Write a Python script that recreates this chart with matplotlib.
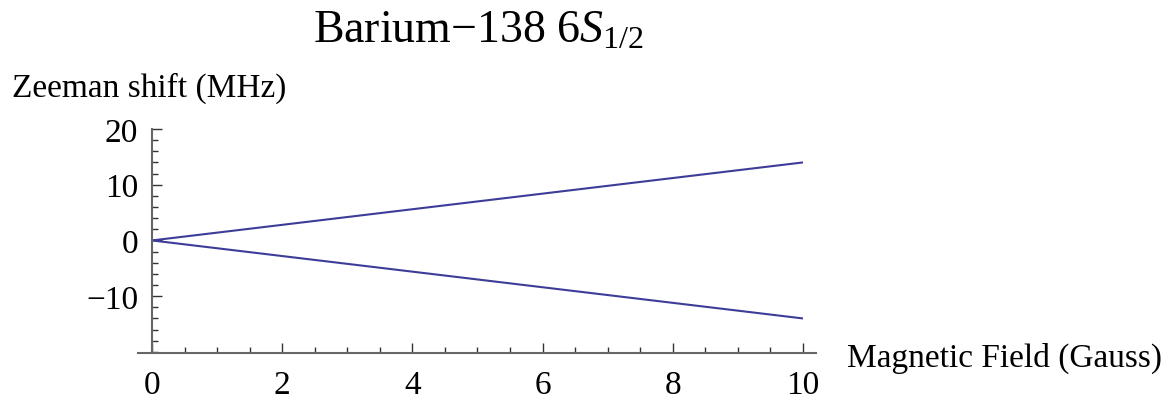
import numpy as np
import matplotlib
matplotlib.use("Agg")
import matplotlib.pyplot as plt
from matplotlib.ticker import MultipleLocator

plt.rcParams["font.family"] = ["Liberation Serif", "DejaVu Serif"]
plt.rcParams["mathtext.fontset"] = "custom"
plt.rcParams["mathtext.rm"] = "Liberation Serif"
plt.rcParams["mathtext.it"] = "Liberation Serif:italic"

# Zeeman shift of the two m_J sublevels of the 6S_1/2 ground state
field_gauss = [0.0, 10.0]
shift_up_mhz = [0.0, 14.0]
shift_down_mhz = [0.0, -14.0]

x_major = [0, 2, 4, 6, 8, 10]
y_major = [-10, 0, 10, 20]

line_color = "#3d3d99"
axis_color = "#666666"

fig = plt.figure(figsize=(11.70, 4.02), dpi=100)
ax = fig.add_axes([138 / 1170, 48 / 402, 678 / 1170, 224 / 402])

ax.plot(field_gauss, shift_up_mhz, color=line_color, lw=1.5, solid_capstyle="butt")
ax.plot(field_gauss, shift_down_mhz, color=line_color, lw=1.5, solid_capstyle="butt")

ax.set_xlim(-0.215, 10.2)
ax.set_ylim(-20.2, 20)

for side in ("top", "right"):
    ax.spines[side].set_visible(False)
ax.spines["left"].set_position(("data", 0))
for side in ("left", "bottom"):
    ax.spines[side].set_color(axis_color)
    ax.spines[side].set_linewidth(1.5)

ax.xaxis.set_major_locator(MultipleLocator(2))
ax.xaxis.set_minor_locator(MultipleLocator(0.5))
ax.yaxis.set_major_locator(MultipleLocator(10))
ax.yaxis.set_minor_locator(MultipleLocator(2))
ax.set_xticks(x_major)
ax.set_yticks(y_major)
ax.set_yticklabels(["\u221210", "0", "10", "20"])

ax.tick_params(which="both", direction="in", color="#333333", width=1,
               labelsize=24, labelcolor="black")
ax.tick_params(which="major", length=7)
ax.tick_params(which="minor", length=4)
ax.tick_params(axis="x", which="major", pad=12)
ax.tick_params(axis="y", which="major", pad=10)

fig.text(12 / 1170, 1 - 97 / 402, "Zeeman shift (MHz)", fontsize=24,
         ha="left", va="baseline")
fig.text(847 / 1170, 1 - 367 / 402, "Magnetic Field (Gauss)", fontsize=24,
         ha="left", va="baseline")
fig.text(478 / 1170, 1 - 43 / 402, "Barium\u2212138 6$S_{1/2}$", fontsize=33,
         ha="center", va="baseline")

fig.savefig("out.png", dpi=100, facecolor="white")
